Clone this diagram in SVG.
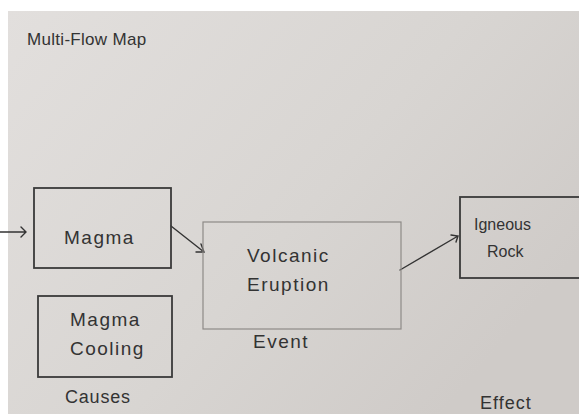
<svg xmlns="http://www.w3.org/2000/svg" width="579" height="414" viewBox="0 0 579 414">
<defs>
<linearGradient id="paper" x1="0" y1="0" x2="1" y2="0.6">
<stop offset="0" stop-color="#e2dfdd"/>
<stop offset="0.6" stop-color="#d8d5d2"/>
<stop offset="1" stop-color="#cfcbc8"/>
</linearGradient>
<style>
.t{font-family:"Liberation Sans","DejaVu Sans",sans-serif;fill:#333;}
.lbl{font-size:19px;letter-spacing:1.5px;}
.box{fill:none;stroke:#3a3a3a;stroke-width:1.8;}
.faint{fill:none;stroke:#8e8a87;stroke-width:1.2;}
.conn{fill:none;stroke:#333;stroke-width:1.4;stroke-linecap:round;}
</style>
</defs>
<rect x="0" y="0" width="579" height="414" fill="#ffffff"/>
<rect x="8" y="11" width="571" height="403" fill="url(#paper)"/>
<text class="t" x="27" y="45" font-size="17" letter-spacing="0.3">Multi-Flow Map</text>

<g id="connectors">
<path class="conn" d="M0,232 L26,232 M21,227 L26,232 L21,237"/>
<path class="conn" d="M171,226 L204,252 M196,252 L204,252 L201,244"/>
<path class="conn" d="M400,270 L458,236 M451,235 L458,236 L456,242"/>
</g>

<g id="magma">
<rect class="box" x="34" y="188" width="137" height="80"/>
<text class="t lbl" x="64" y="244">Magma</text>
</g>

<g id="magma-cooling">
<rect class="box" x="38" y="296" width="134" height="81"/>
<text class="t lbl" x="70" y="326">Magma</text>
<text class="t lbl" x="70" y="355">Cooling</text>
</g>

<g id="volcanic-eruption">
<rect class="faint" x="203" y="222" width="198" height="107"/>
<text class="t lbl" x="247" y="262">Volcanic</text>
<text class="t lbl" x="247" y="291">Eruption</text>
</g>

<g id="igneous-rock">
<rect class="box" x="460" y="197" width="130" height="81"/>
<text class="t" x="474" y="230" font-size="16">Igneous</text>
<text class="t" x="487" y="257" font-size="16">Rock</text>
</g>

<text class="t" x="65" y="403" font-size="18" letter-spacing="0.8">Causes</text>
<text class="t lbl" x="253" y="348">Event</text>
<text class="t" x="480" y="409" font-size="18" letter-spacing="1">Effect</text>
</svg>
